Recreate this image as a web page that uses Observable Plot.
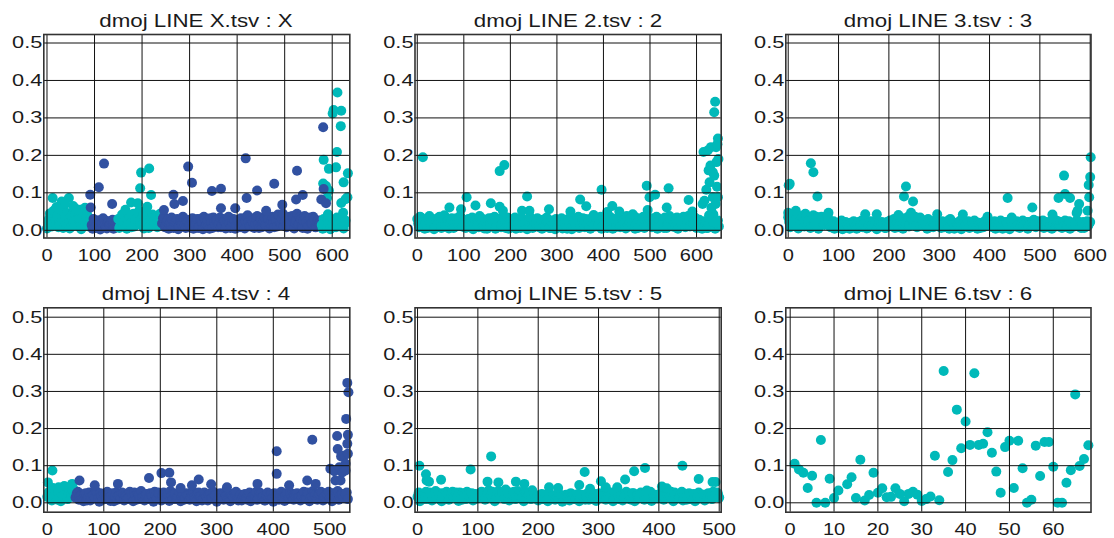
<!DOCTYPE html>
<html>
<head>
<meta charset="utf-8">
<script src="https://cdn.jsdelivr.net/npm/d3@7"></script>
<script src="https://cdn.jsdelivr.net/npm/@observablehq/plot@0.6"></script>
<style>
  html, body { margin: 0; padding: 0; background: #fff; }
  #root { position: relative; width: 1114px; height: 538px; overflow: hidden; background: #fff; }
  .cell { position: absolute; }
  .ttl { position: absolute; font-family: 'Liberation Sans', Arial, sans-serif; font-size: 18px; line-height: 18px;
         color: #1a1a1a; white-space: nowrap; transform: translateX(-50%) scaleX(1.24); transform-origin: 50% 50%; }
</style>
</head>
<body>
<div id="root"></div>
<script>
// ---------------- data ----------------
const titles = ["dmoj LINE X.tsv : X", "dmoj LINE 2.tsv : 2", "dmoj LINE 3.tsv : 3",
                "dmoj LINE 4.tsv : 4", "dmoj LINE 5.tsv : 5", "dmoj LINE 6.tsv : 6"];
const yTicks = [0, 0.1, 0.2, 0.3, 0.4, 0.5];
const xTicks1 = [0, 100, 200, 300, 400, 500, 600];
const xTicks2 = [0, 100, 200, 300, 400, 500, 600];
const xTicks3 = [0, 100, 200, 300, 400, 500, 600];
const xTicks4 = [0, 100, 200, 300, 400, 500];
const xTicks5 = [0, 100, 200, 300, 400, 500];
const xTicks6 = [0, 10, 20, 30, 40, 50, 60];

// dense band values (y in thousandths): "a" arrays at indices 0,4,8,...; "b" arrays at indices 2,6,10,...
const band1a = [5,30,12,40,20,45,8,35,25,50,15,42,5,38,22,48,12,32,3,40,20,45,10,30,
  4,22,12,26,2,18,28,8,20,14,25,4,18,10,
  6,25,14,35,4,30,20,40,10,30,45,18,38,5,28,40,12,34,22,38,8,30,14,
  32,8,24,4,20,28,12,24,3,26,15,30,6,22,14,
  26,4,18,30,10,24,3,28,16,10,32,6,22,26,8,34,14,24,5,28,18,10,30,4,24,
  12,32,18,5,36,22,10,26,6,30,16,34,8,24,14,38,5,26,20,32,10,40,14,45,22,
  8,30,18,38,5,26,14,34,10,24,32,4,28,18,36,8,22,14,26,
  4,22,10,26,3,18,24,8,30,14,22,5,26];
const band1b = [20,45,10,52,28,38,15,55,6,33,46,18,40,26,12,50,30,8,44,16,36,24,14,
  14,30,6,20,26,10,32,16,5,24,18,28,8,22,
  30,12,42,22,48,16,36,8,44,26,34,52,14,40,24,46,6,30,42,18,36,26,44,
  18,36,12,28,16,34,6,20,30,10,22,36,14,28,8,
  16,32,10,24,6,30,20,36,12,26,4,22,34,14,28,18,8,30,24,12,36,6,22,28,14,
  26,8,30,14,24,40,12,32,20,16,38,6,28,22,34,10,30,18,36,8,26,42,20,30,12,
  24,14,36,10,32,20,44,16,28,6,38,22,12,34,18,30,8,26,20,
  14,30,8,24,18,6,28,12,34,20,10,26,16];
// colour segments of panels X and 4: [start index, series]
const seg1 = [[0, "c"], [94, "b"], [150, "c"], [242, "b"], [578, "c"]];
const out1 = [[12,86,"c"],[31,77,"c"],[46,86,"c"],[20,62,"c"],[38,70,"c"],[55,65,"c"],[60,58,"c"],[70,55,"c"],[80,60,"c"],
  [91,95,"b"],[92,61,"b"],[109,115,"b"],[120,178,"b"],[137,70,"b"],
  [165,55,"c"],[177,74,"c"],[191,72,"c"],[196,112,"c"],[198,154,"c"],[211,63,"c"],[215,165,"c"],[219,94,"c"],
  [246,54,"b"],[266,95,"b"],[268,70,"b"],[286,78,"b"],[297,170,"b"],[305,127,"b"],[347,105,"b"],[366,111,"b"],[366,59,"b"],
  [396,59,"b"],[418,192,"b"],[420,86,"b"],[442,106,"b"],[461,52,"b"],[478,124,"b"],[495,68,"b"],[524,82,"b"],[526,159,"b"],[538,94,"b"],
  [581,125,"c"],[582,188,"c"],[587,118,"c"],[589,86,"c"],[591,43,"c"],[593,106,"c"],[593,164,"c"],
  [577,82,"b"],[581,275,"b"],[582,110,"b"],[587,72,"b"],
  [601,312,"c"],[603,321,"c"],[608,168,"c"],[610,209,"c"],[611,368,"c"],[618,278,"c"],[619,319,"c"],[619,73,"c"],
  [623,47,"c"],[624,128,"c"],[628,83,"c"],[632,88,"c"],[633,152,"c"]];

const band2a = [30,8,34,18,4,26,32,10,22,3,28,15,36,6,24,14,30,5,20,26,8,32,18,38,10,26,
  6,28,14,24,3,26,18,8,22,30,5,20,26,10,32,16,4,24,30,8,22,14,26,4,18,
  10,24,4,20,30,8,26,16,3,22,32,6,18,26,10,22,4,28,14,20,6,24,16,3,22,
  14,26,5,20,10,30,18,3,24,14,28,6,22,32,8,18,26,4,22,14,30,10,20,4,26,
  16,6,28,20,4,30,14,24,8,32,18,5,26,22,10,30,4,20,26,14,34,6,24,16,30,
  8,26,20,4,30,14,24,34,6,22,28,10,18,32,4,26,16,36,8,24,30,14,20,34,6,
  22,12,4,8,18,6,26,12,22,4,18,10];
const band2b = [18,36,12,28,22,6,38,16,30,10,24,34,8,20,40,14,26,18,32,6,28,22,12,34,16,
  22,10,30,18,34,8,26,14,38,20,12,28,4,32,18,24,36,10,20,30,14,26,6,34,22,
  28,16,34,12,22,6,30,20,10,26,36,14,24,18,32,8,22,28,12,34,18,6,26,14,30,
  8,22,32,16,26,4,20,34,12,28,18,36,10,24,14,30,20,6,32,24,10,28,16,36,12,
  24,32,12,36,16,28,8,22,34,14,26,20,38,10,30,16,24,34,6,28,18,36,12,26,20,
  32,14,24,36,10,28,18,6,30,20,38,14,26,8,34,22,12,30,24,16,38,10,28,18,32,
  14,28,20,10,24,6,16,28,10,20,14,26];
const out2 = [[12,195],[69,61],[94,56],[106,88],[125,66],[158,72],[177,158],[177,63],[184,52],[187,174],[225,52],[236,90],
  [241,52],[283,56],[329,50],[350,82],[363,64],[379,41],[396,108],[408,49],[419,65],[434,50],[463,43],[493,119],[495,54],
  [499,88],[511,95],[540,112],[536,61],[583,81],[591,50],[613,70],[617,79],[615,209],[621,108],[624,213],[626,160],[628,128],
  [630,173],[631,222],[635,155],[635,88],[636,43],[637,21],[638,315],[640,343],[638,146],[642,222],[643,182],[644,116],
  [646,245],[646,88],[641,70],[642,21],[627,40],[632,60],[645,230],[647,190]];

const band3a = [35,8,30,18,40,5,26,34,10,38,22,6,30,18,36,4,24,34,14,26,30,
  8,20,4,16,12,22,3,15,18,6,20,10,16,4,22,12,8,20,5,16,24,10,14,3,20,12,18,6,22,10,
  16,24,6,20,12,26,4,22,28,10,24,16,30,8,20,24,12,18,4,22,14,8,20,24,12,
  6,18,12,22,4,16,20,8,14,22,3,18,12,20,6,16,10,20,4,14,18,8,20,12,24,
  10,18,4,14,20,8,22,12,16,3,20,24,10,14,6,18,12,22,4,16,20,28,8,24,12,
  18,6,22,12,16,4,20,10,24,14,6,20,12,22,4,18,10,24,14,8,20,6,16,12,22];
const band3b = [22,42,14,34,26,10,38,20,44,16,30,8,40,24,32,12,36,20,28,40,
  16,12,24,8,20,16,26,10,22,14,4,18,24,12,20,8,26,16,22,6,18,12,20,26,8,16,22,14,6,20,
  26,12,30,18,8,24,32,16,20,36,14,28,22,10,30,34,20,26,14,30,8,24,18,28,20,
  16,24,8,18,26,12,22,4,20,16,26,10,22,14,24,8,18,26,12,20,6,16,24,14,20,
  20,8,24,16,12,26,4,18,22,10,26,14,20,24,16,10,26,18,8,22,14,24,18,12,20,
  10,26,16,20,8,24,14,28,18,10,22,16,26,8,24,14,20,12,26,18,6,22,14,24,18];
const out3 = [[0,47],[3,124],[1,120],[15,52],[45,179],[50,155],[58,90],[80,47],[153,43],[176,43],[219,41],[230,90],[234,117],
  [244,47],[248,77],[252,36],[296,43],[322,30],[347,42],[396,36],[436,86],[444,34],[485,61],[525,42],[537,86],[548,146],
  [550,97],[560,86],[573,46],[575,52],[578,70],[595,52],[597,121],[598,88],[600,142],[601,195]];

const band4a = [16,30,6,26,12,32,4,24,34,10,30,36,20,
  24,8,20,4,26,14,6,22,12,28,3,18,24,10,20,5,26,16,8,22,28,6,18,12,24,
  4,20,26,10,16,6,24,14,22,3,18,28,8,20,12,24,5,20,26,10,16,4,22,12,20,
  8,24,14,4,28,18,10,22,6,26,12,20,3,16,24,8,20,12,4,18,24,10,14,6,20,
  12,24,4,16,22,8,28,14,6,20,12,24,3,18,10,22,16,5,26,12,20,8,24,14,6,
  22,12,28,4,18,24,10,20,30,6,16,24,12,4,20,28,8,22,14,24,10];
const band4b = [28,10,40,20,8,34,24,14,42,26,18,38,
  14,30,18,10,24,6,28,16,22,32,12,26,8,20,30,14,22,4,28,18,12,26,20,10,30,
  16,28,8,22,32,14,20,10,26,18,30,12,24,6,28,16,22,32,10,24,14,28,18,8,26,
  20,14,30,10,24,18,6,28,16,22,12,30,20,8,26,14,28,18,10,24,14,30,6,22,16,
  24,8,28,14,20,30,12,24,16,6,28,20,12,26,18,8,30,14,22,10,28,16,20,26,14,
  18,30,10,26,14,32,20,8,24,28,14,22,30,10,26,16,32,18,24,12,28];
const seg4 = [[0, "c"], [50, "b"]];
const out4 = [[1,55,"c"],[9,87,"c"],[44,51,"c"],[30,45,"c"],[20,42,"c"],
  [57,60,"b"],[84,47,"b"],[125,51,"b"],[180,67,"b"],[202,80,"b"],[216,81,"b"],[219,55,"b"],[236,40,"b"],[256,47,"b"],
  [268,63,"b"],[290,50,"b"],[318,42,"b"],[372,51,"b"],[406,139,"b"],[406,78,"b"],[428,47,"b"],[460,60,"b"],[469,170,"b"],
  [475,51,"b"],[501,92,"b"],[508,85,"b"],[510,60,"b"],[513,180,"b"],[514,145,"b"],[517,96,"b"],[519,60,"b"],[520,125,"b"],
  [522,82,"b"],[525,127,"b"],[528,105,"b"],[528,87,"b"],[529,226,"b"],[531,323,"b"],[531,159,"b"],[532,183,"b"],
  [532,132,"b"],[533,298,"b"]];

const band5a = [16,4,24,10,20,28,6,22,12,26,4,18,30,8,24,14,28,5,20,26,10,22,16,6,24,12,
  20,28,8,24,14,30,4,22,18,28,10,24,6,20,30,12,24,16,4,28,20,10,24,14,6,
  18,10,22,4,14,20,8,16,22,3,12,18,6,20,10,16,4,22,12,18,8,20,14,5,22,
  12,24,8,18,28,4,20,14,24,6,16,22,10,26,4,20,14,24,8,18,22,5,16,12,20,
  28,8,24,18,30,4,22,12,20,6,16,24,10,20,4,18,12,22,6,16,24,10,20,28,14];
const band5b = [28,14,20,30,10,24,16,32,20,8,26,18,24,12,30,22,14,28,8,20,30,16,26,10,22,
  14,30,22,12,34,20,26,10,32,18,24,36,14,28,20,10,32,24,16,30,12,26,34,20,14,
  12,24,16,8,26,14,20,10,24,16,6,22,14,26,18,10,24,14,20,8,26,16,12,24,14,
  26,16,20,30,12,24,18,28,10,22,14,30,18,8,26,20,12,28,16,24,10,30,18,22,12,
  18,32,14,26,20,10,28,24,14,30,18,8,26,16,24,12,28,18,22,10,26,16,30,20,24];
const out5 = [[3,100],[14,77],[15,60],[19,57],[39,62],[88,90],[116,57],[122,125],[134,55],[163,57],[177,51],[218,42],
  [233,40],[268,48],[277,83],[286,38],[304,58],[312,42],[331,42],[344,63],[359,85],[377,94],[380,33],[405,44],[413,39],
  [439,100],[466,64],[489,56],[494,56]];

const x6 = [1,2,3,4,5,6,7,8,9,10,11,13,14,15,16,17,18,19,20,21,22,23,24,25,26,27,28,29,30,31,32,33,34,35,36,37,38,39,40,
  41,42,43,44,45,46,47,48,49,50,51,52,53,54,55,56,57,58,59,60,61,62,63,64,65,66,67,68];
const y6 = [0.105,0.09,0.081,0.04,0.073,0.0,0.169,0.0,0.065,0.013,0.033,0.05,0.069,0.013,0.116,0.006,0.021,0.081,0.027,
  0.039,0.015,0.016,0.039,0.024,0.004,0.024,0.03,0.022,0.005,0.01,0.017,0.127,0.007,0.355,0.083,0.115,0.251,0.147,0.219,
  0.156,0.349,0.156,0.159,0.19,0.135,0.084,0.027,0.15,0.167,0.04,0.167,0.093,0.0,0.008,0.154,0.072,0.164,0.164,0.097,
  0.0,0.0,0.054,0.088,0.292,0.099,0.118,0.155];

// ---------------- build ----------------
const CYAN = "#00B9B9", BLUE = "#3151A1";
const colorOf = s => s === "b" ? BLUE : CYAN;
function segAt(x, seg) { let s = seg[0][1]; for (const [x0, c] of seg) if (x >= x0) s = c; return s; }
function bandRows(vals, start, seg) {
  return vals.map((v, i) => { const x = start + i * 4; return {x, y: v / 1000, s: seg ? segAt(x, seg) : "c"}; });
}
function outRows(arr) { return arr.map(d => ({x: d[0], y: d[1] / 1000, s: d[2] || "c"})); }
function merge(a, b) { const m = []; const n = Math.max(a.length, b.length); for (let i = 0; i < n; i++) { if (a[i]) m.push(a[i]); if (b[i]) m.push(b[i]); } return m; }

const rows1 = [...merge(bandRows(band1a, 0, seg1), bandRows(band1b, 2, seg1)), ...outRows(out1)];
const rows2 = [...merge(bandRows(band2a, 0), bandRows(band2b, 2)), ...outRows(out2)];
const rows3 = [...merge(bandRows(band3a, 0), bandRows(band3b, 2)), ...outRows(out3)];
const rows4 = [...merge(bandRows(band4a, 0, seg4), bandRows(band4b, 2, seg4)), ...outRows(out4)];
const rows5 = [...merge(bandRows(band5a, 0), bandRows(band5b, 2)), ...outRows(out5)];
const rows6 = x6.map((x, i) => ({x, y: y6[i], s: "c"}));

const colL = [0, 372, 742], colW = [372, 370, 372];
const frameL = [43.3, 414.5, 785.3], frameR = [349.3, 720.7, 1090.5];
const rowT = [0, 270], rowH = [270, 268];
const frameT = [34, 307.3], frameB = [237.5, 511.7];
const yDom = [[-0.0206, 0.5227], [-0.0253, 0.5253]];

const panels = [
  {rows: rows1, xd: [-6.7, 637], ticks: xTicks1},
  {rows: rows2, xd: [-4.9, 653], ticks: xTicks2},
  {rows: rows3, xd: [-4.8, 601.6], ticks: xTicks3},
  {rows: rows4, xd: [-6.2, 535.4], ticks: xTicks4},
  {rows: rows5, xd: [-4.2, 503.3], ticks: xTicks5},
  {rows: rows6, xd: [-1.0, 68.6], ticks: xTicks6}
];

const root = document.getElementById("root");
panels.forEach((p, k) => {
  const c = k % 3, r = Math.floor(k / 3);
  const W = colW[c], H = rowH[r];
  const mL = frameL[c] - colL[c], mR = colL[c] + W - frameR[c];
  const mT = frameT[r] - rowT[r], mB = rowT[r] + H - frameB[r];
  const svg = Plot.plot({
    width: W, height: H,
    marginLeft: mL, marginRight: mR, marginTop: mT, marginBottom: mB,
    style: {fontFamily: "'Liberation Sans', Arial, sans-serif", fontSize: "17px", color: "#1a1a1a", background: "transparent", overflow: "visible"},
    x: {domain: p.xd, ticks: p.ticks, tickSize: 0, tickPadding: 11, tickFormat: d => String(d), label: null},
    y: {domain: yDom[r], ticks: yTicks, tickSize: 0, tickPadding: 1.5, tickFormat: d3.format(".1f"), label: null},
    marks: [
      Plot.dot(p.rows, {x: "x", y: "y", r: 5, fill: d => colorOf(d.s), stroke: "none"}),
      Plot.ruleX(p.ticks, {stroke: "#111", strokeWidth: 1}),
      Plot.ruleY(yTicks, {stroke: "#111", strokeWidth: 1}),
      Plot.frame({stroke: "#333", strokeWidth: 1.6})
    ]
  });
  // horizontal stretch of the lettering, as in the reference
  svg.querySelectorAll("text").forEach(t => {
    const isX = !!t.closest('[aria-label^="x-axis"]');
    const sx = isX ? 1.18 : 1.28;
    const x = +(t.getAttribute("x") || 0);
    const tr = t.getAttribute("transform") || "";
    t.setAttribute("transform", `${tr} translate(${x},0) scale(${sx},1) translate(${-x},0)`);
  });
  const cell = document.createElement("div");
  cell.className = "cell";
  cell.style.left = colL[c] + "px"; cell.style.top = rowT[r] + "px";
  cell.appendChild(svg);
  root.appendChild(cell);
  const t = document.createElement("div");
  t.className = "ttl";
  t.textContent = titles[k];
  t.style.left = ((frameL[c] + frameR[c]) / 2) + "px";
  t.style.top = (frameT[r] - 6.7 - 15.2) + "px";
  root.appendChild(t);
});
</script>
</body>
</html>
